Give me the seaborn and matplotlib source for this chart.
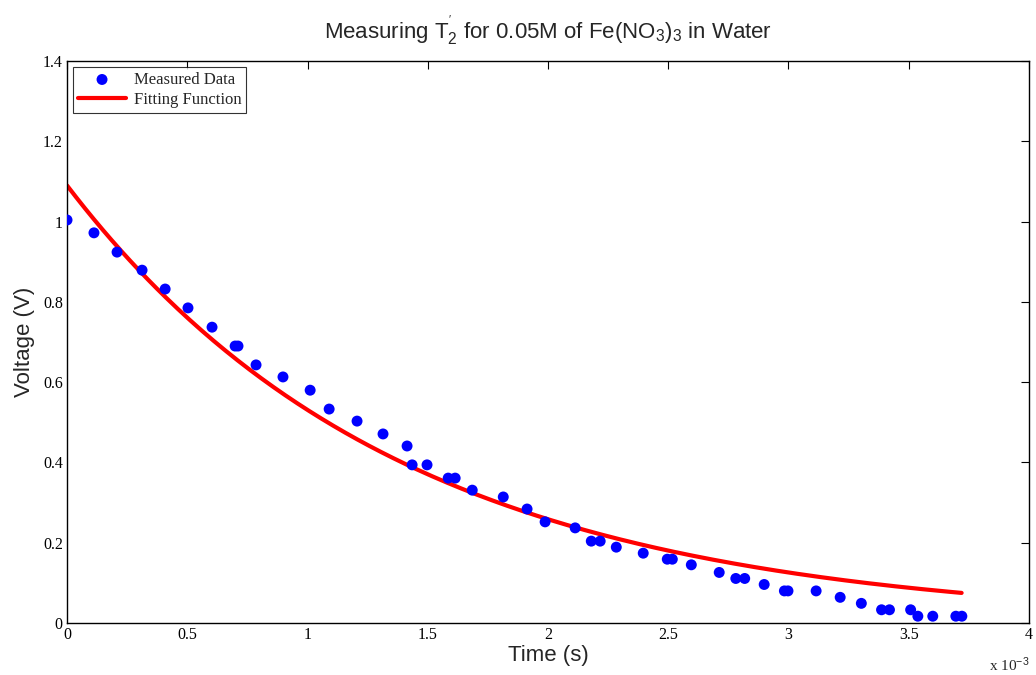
import numpy as np
import pandas as pd
import matplotlib
matplotlib.use("Agg")
import matplotlib.pyplot as plt
from matplotlib.ticker import FuncFormatter, MultipleLocator
import seaborn as sns

# Measured data (time in ms, voltage in V)
time_ms = [0.000, 0.112, 0.208, 0.312, 0.408, 0.503, 0.603, 0.699, 0.711, 0.786,
           0.898, 1.011, 1.090, 1.206, 1.314, 1.414, 1.435, 1.497, 1.585, 1.614,
           1.685, 1.814, 1.913, 1.988, 2.113, 2.180, 2.217, 2.284, 2.396, 2.496,
           2.517, 2.596, 2.712, 2.781, 2.818, 2.899, 2.983, 2.998, 3.115, 3.215,
           3.303, 3.387, 3.420, 3.508, 3.538, 3.600, 3.696, 3.721]
voltage = [1.004, 0.972, 0.924, 0.879, 0.832, 0.785, 0.737, 0.690, 0.690, 0.643,
           0.613, 0.580, 0.533, 0.503, 0.471, 0.441, 0.394, 0.394, 0.361, 0.361,
           0.331, 0.314, 0.284, 0.252, 0.237, 0.204, 0.204, 0.189, 0.174, 0.159,
           0.159, 0.145, 0.126, 0.111, 0.111, 0.096, 0.080, 0.080, 0.080, 0.064,
           0.049, 0.033, 0.033, 0.033, 0.017, 0.017, 0.017, 0.017]

# Fitting function parameters: V(t) = A * exp(-t / T2)
fit_A = 1.09
fit_T2_ms = 1.39
fit_t_end_ms = 3.72

t_s = np.array(time_ms) * 1e-3
df = pd.DataFrame({"t": t_s, "V": voltage})
tf = np.linspace(0, fit_t_end_ms, 300)
fit_df = pd.DataFrame({"t": tf * 1e-3, "V": fit_A * np.exp(-tf / fit_T2_ms)})

sns.set_theme(style="white")
plt.rcParams['font.family'] = ['Liberation Serif', 'DejaVu Serif']
plt.rcParams['mathtext.fontset'] = 'custom'
plt.rcParams['mathtext.rm'] = 'Liberation Sans'
plt.rcParams['mathtext.it'] = 'Liberation Sans:italic'

fig = plt.figure(figsize=(10.36, 6.75), dpi=100)
ax = fig.add_axes([0.0647, 0.0770, 0.9285, 0.8326])

sns.scatterplot(data=df, x="t", y="V", ax=ax, color="#0000ff", s=62,
                edgecolor="none", label="Measured Data", zorder=3)
sns.lineplot(data=fit_df, x="t", y="V", ax=ax, color="#ff0000", linewidth=3.0,
             label="Fitting Function", zorder=2)

ax.set_xlim(0, 4e-3)
ax.set_ylim(0, 1.4)
ax.xaxis.set_major_locator(MultipleLocator(0.5e-3))
ax.yaxis.set_major_locator(MultipleLocator(0.2))
ax.xaxis.set_major_formatter(FuncFormatter(lambda v, p: f"{v*1e3:g}"))
ax.yaxis.set_major_formatter(FuncFormatter(lambda v, p: f"{v:g}"))
ax.tick_params(direction="in", length=6, width=0.8, top=True, right=True,
               labelsize=11.5, colors="black", pad=3)
for lab in ax.get_xticklabels() + ax.get_yticklabels():
    lab.set_fontfamily("Liberation Serif")
for sp in ax.spines.values():
    sp.set_color("black")
    sp.set_linewidth(1.0)

sans = ['Liberation Sans', 'DejaVu Sans']
ax.set_xlabel("Time (s)", fontsize=16, family=sans, labelpad=1)
ax.set_ylabel("Voltage (V)", fontsize=16, family=sans, labelpad=6)
ax.set_title(r"Measuring T$\mathregular{_2^{'}}$ for 0.05M of Fe(NO$\mathregular{_3}$)$\mathregular{_3}$ in Water",
             fontsize=16, family=sans, pad=16)

ax.text(1.0, -0.058, r"x 10$^{-3}$", transform=ax.transAxes, ha="right", va="top",
        fontsize=11, family="Liberation Serif")

leg = ax.legend(loc="upper left", frameon=True, fancybox=False, fontsize=12,
                borderaxespad=0.35, handlelength=2.9, borderpad=0.3,
                labelspacing=0.25, handletextpad=0.45)
leg.get_frame().set_edgecolor("black")
leg.get_frame().set_linewidth(0.8)
for t in leg.get_texts():
    t.set_fontfamily("Liberation Serif")

fig.savefig("out.png", dpi=100)
